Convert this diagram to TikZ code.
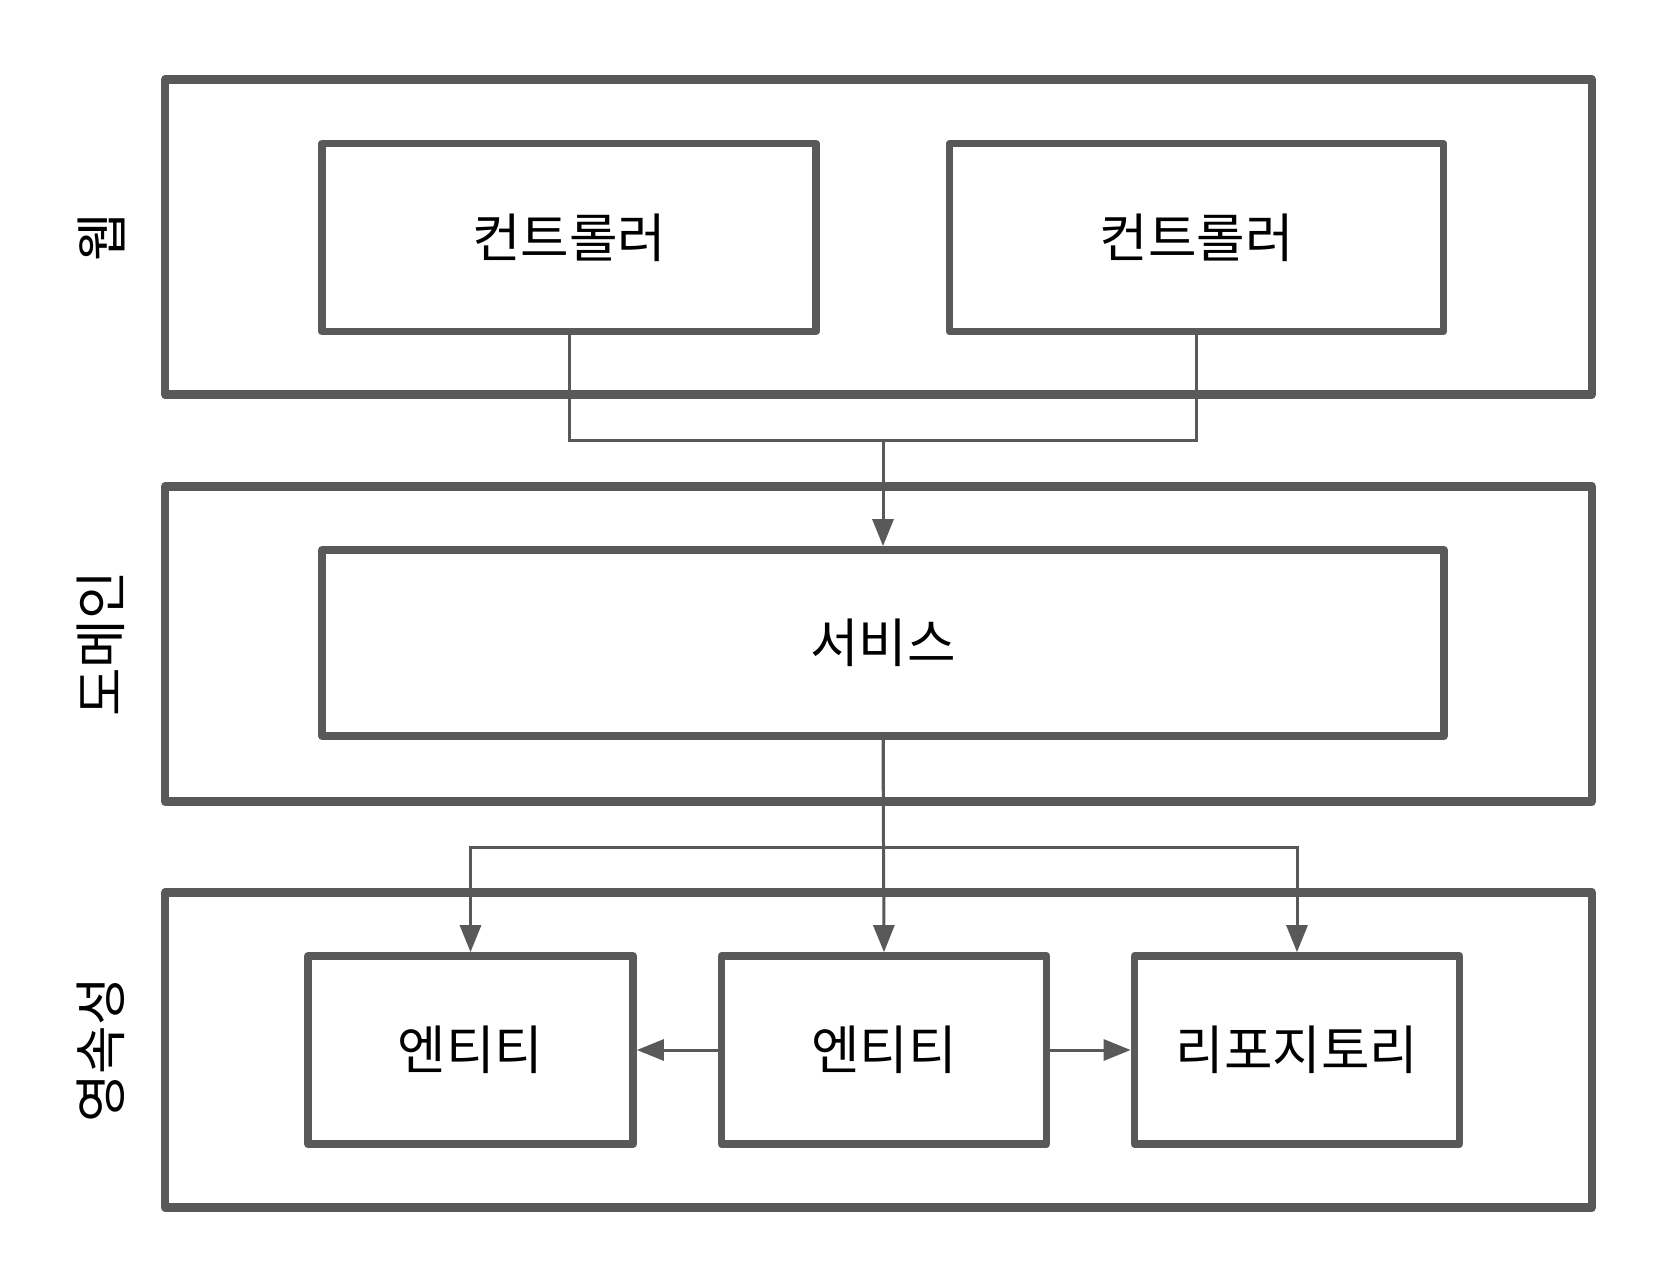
\documentclass[tikz,border=0pt]{standalone}
\usepackage{fontspec}
\setmainfont{Noto Sans CJK KR}
\usepackage{tikz}
\usetikzlibrary{positioning,
                arrows.meta}
\definecolor{framegray}{HTML}{595959}

\begin{document}
\begin{tikzpicture}[x=0.02cm,y=-0.02cm]

\tikzset{
layerbox/.style={
draw=framegray,
line width=0.17cm,
line join=round,
minimum width=28.54cm,
minimum height=6.3cm
},
partbox/.style={
draw=framegray,
line width=0.155cm,
line join=round,
minimum height=3.76cm,
font=\fontsize{30}{36}\selectfont
},
layerlabel/.style={
rotate=90,
font=\fontsize{30}{36}\selectfont
},
link/.style={
draw=framegray,
line width=0.06cm
},
linkarrow/.style={
link,
-{Triangle[width=0.42cm,length=0.54cm]}
}
}

\useasboundingbox (0,0) rectangle (1666,1278);

%--------------------------------------------------
% LAYERS
%--------------------------------------------------

\node[layerbox] (web) at (878.5,237) {};
\node[layerbox] (domain) at (878.5,644) {};
\node[layerbox] (persist) at (878.5,1050) {};

\node[layerlabel] (weblabel) at (101,237) {웹};
\node[layerlabel] (domainlabel) at (101,644) {도메인};
\node[layerlabel] (persistlabel) at (101,1050) {영속성};

%--------------------------------------------------
% WEB
%--------------------------------------------------

\node[partbox,minimum width=9.88cm]
(ctrlA) at (569,237.5) {컨트롤러};
\node[partbox,minimum width=9.88cm]
(ctrlB) at (1196.5,237.5) {컨트롤러};

%--------------------------------------------------
% DOMAIN
%--------------------------------------------------

\node[partbox,minimum width=22.44cm,minimum height=3.72cm]
(svc) at (883,643) {서비스};

%--------------------------------------------------
% PERSISTENCE
%--------------------------------------------------

\node[partbox,minimum width=6.5cm]
(entA) at (470.5,1050) {엔티티};
\node[partbox,minimum width=6.5cm]
(entB) at (884,1050) {엔티티};
\node[partbox,minimum width=6.5cm]
(repo) at (1297,1050) {리포지토리};

%--------------------------------------------------
% CONNECTORS
%--------------------------------------------------

\coordinate (webjoin) at (883,440);
\coordinate (svcjoin) at (883,847);

\draw[link] (ctrlA.south) |- (webjoin);
\draw[link] (ctrlB.south) |- (webjoin);
\draw[linkarrow] (webjoin) -- (svc.north);

\draw[link] (svc.south) -- (svcjoin);
\draw[linkarrow] (svcjoin) -| (entA.north);
\draw[linkarrow] (svcjoin) -| (repo.north);
\draw[linkarrow] (svc.south) -- (entB.north);

\draw[linkarrow] (entB.west) -- (entA.east);
\draw[linkarrow] (entB.east) -- (repo.west);

\end{tikzpicture}
\end{document}
